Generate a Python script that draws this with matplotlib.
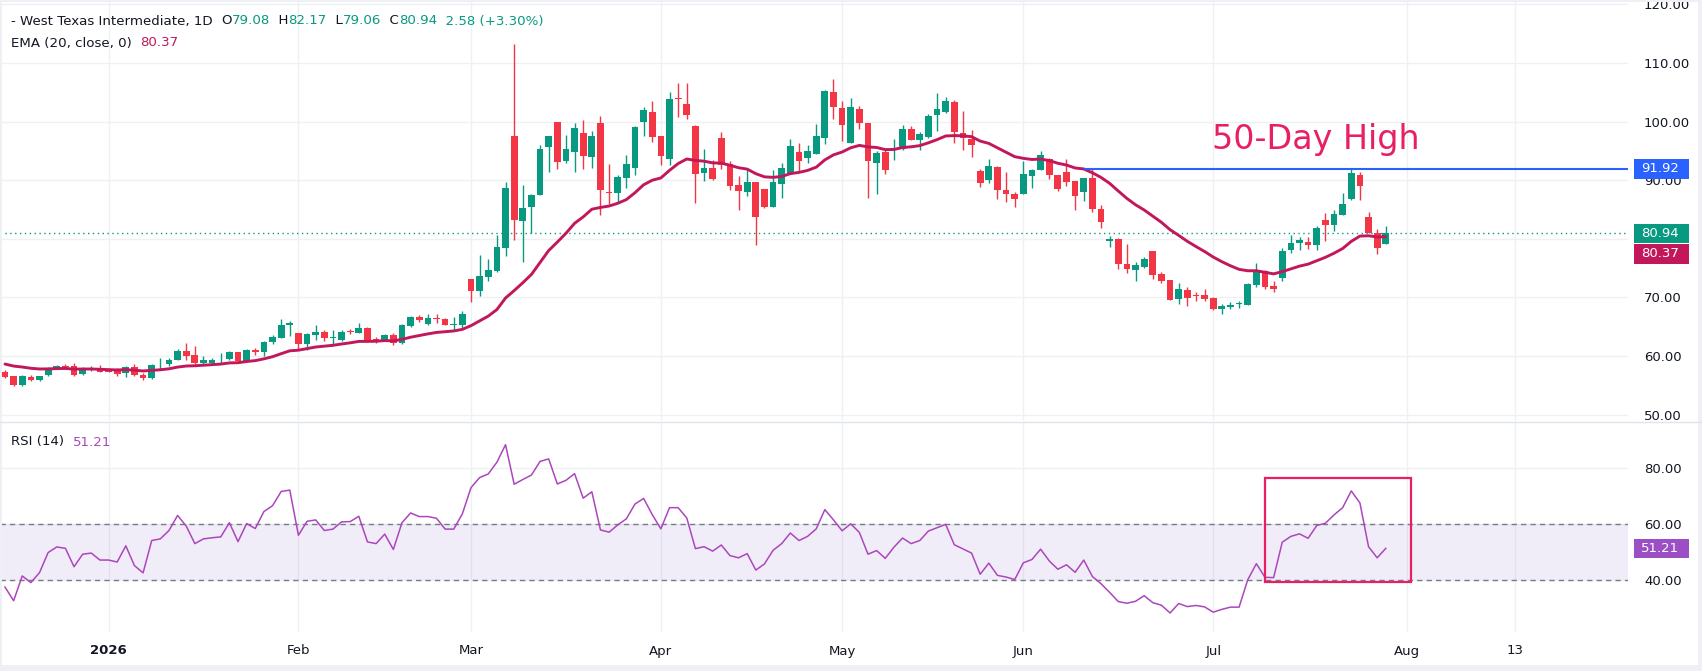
import numpy as np
import matplotlib
matplotlib.use("Agg")
import matplotlib.pyplot as plt
from matplotlib.patches import Rectangle

plt.rcParams['font.family'] = ['DejaVu Sans']

# ---------------- data ----------------
opens = [57.34, 56.55, 55.03, 56.50, 55.88, 56.72, 57.80, 58.31, 58.36, 56.89,
         57.80, 57.91, 57.34, 57.68, 57.06, 58.14, 56.84, 56.21, 58.59, 58.70,
         59.27, 60.90, 60.17, 58.76, 58.76, 59.43, 59.43, 60.73, 59.21, 61.07,
         60.62, 62.32, 63.16, 65.25, 63.95, 61.98, 63.67, 64.18, 63.11, 62.66,
         64.29, 64.01, 64.80, 62.88, 62.77, 63.62, 62.15, 65.20, 66.67, 65.48,
         66.50, 66.27, 65.36, 65.25, 73.13, 71.15, 73.53, 74.55, 78.46, 97.46,
         83.06, 85.44, 87.48, 95.65, 99.85, 93.27, 94.80, 97.98, 93.95, 99.68,
         88.05, 87.82, 90.37, 92.08, 99.90, 101.72, 97.46, 93.61, 103.99, 103.08,
         99.17, 91.23, 92.02, 97.12, 92.70, 89.13, 87.99, 89.64, 88.45, 85.44,
         89.35, 91.23, 94.74, 93.78, 94.46, 97.18, 105.12, 102.27, 96.36, 102.10,
         99.72, 92.95, 94.77, 95.34, 95.34, 98.69, 96.82, 97.33, 101.14, 101.59,
         103.30, 98.01, 96.99, 91.53, 90.06, 92.27, 88.30, 87.73, 87.67, 90.74,
         91.76, 93.58, 90.85, 91.36, 89.83, 88.01, 90.34, 85.11, 79.60, 79.94,
         75.68, 74.72, 75.23, 77.90, 73.98, 72.95, 69.77, 71.25, 70.34, 70.45,
         69.95, 67.95, 68.30, 68.82, 68.76, 72.14, 74.56, 71.92, 73.32, 78.06,
         79.24, 79.52, 78.90, 83.24, 82.28, 84.14, 86.79, 90.96, 83.75, 80.99,
         79.08]
highs = [57.68, 56.67, 56.72, 56.84, 56.67, 58.14, 58.47, 58.70, 58.81, 58.14,
         58.36, 58.47, 57.40, 57.97, 58.36, 58.64, 57.12, 58.59, 59.66, 59.72,
         61.19, 62.26, 61.75, 60.06, 59.60, 60.51, 60.90, 60.73, 61.24, 61.30,
         62.60, 63.56, 66.33, 65.99, 63.95, 63.95, 65.31, 64.41, 64.46, 64.41,
         64.69, 65.65, 64.92, 63.22, 63.79, 63.95, 65.42, 66.84, 66.95, 67.18,
         67.18, 66.50, 66.61, 67.63, 73.13, 77.21, 76.53, 80.62, 89.64, 113.29,
         89.13, 87.59, 95.93, 97.46, 99.85, 97.63, 99.68, 100.19, 98.32, 101.04,
         92.70, 90.83, 94.23, 99.17, 102.46, 103.48, 97.46, 105.12, 106.60, 106.65,
         99.34, 95.25, 93.38, 98.15, 93.21, 90.66, 91.68, 89.64, 88.45, 91.68,
         92.93, 96.95, 96.27, 95.93, 99.51, 105.46, 107.33, 103.47, 103.98, 102.61,
         99.72, 94.94, 95.11, 96.99, 99.38, 99.32, 98.18, 101.36, 104.83, 104.20,
         103.64, 101.76, 98.52, 91.93, 93.58, 92.50, 91.36, 88.01, 93.24, 91.99,
         95.00, 93.75, 90.85, 93.58, 89.89, 90.34, 91.88, 85.74, 80.45, 80.06,
         79.15, 76.02, 76.82, 77.90, 74.32, 72.95, 72.44, 71.70, 70.85, 71.42,
         70.05, 68.81, 69.20, 69.44, 72.42, 75.80, 74.68, 72.87, 78.39, 80.70,
         80.31, 80.31, 82.11, 84.42, 84.93, 87.75, 91.92, 91.35, 84.59, 81.66,
         82.17]
lows = [56.21, 54.97, 54.97, 55.80, 55.71, 56.65, 57.74, 58.02, 56.65, 56.84,
        57.51, 57.20, 57.20, 56.55, 56.38, 56.65, 55.88, 56.10, 57.68, 58.36,
        59.27, 59.27, 58.70, 58.70, 58.47, 58.81, 59.38, 59.15, 59.15, 60.23,
        60.06, 61.98, 63.10, 63.50, 61.19, 60.96, 62.66, 62.54, 62.09, 62.54,
        63.79, 63.95, 62.43, 62.20, 62.49, 61.81, 62.10, 64.92, 65.82, 65.37,
        65.59, 65.25, 64.45, 64.74, 69.27, 70.29, 72.85, 74.38, 77.04, 79.77,
        76.08, 81.02, 87.40, 91.40, 91.91, 92.93, 91.40, 91.91, 92.08, 84.08,
        85.89, 86.12, 88.67, 90.88, 97.52, 96.50, 92.59, 92.59, 100.75, 100.41,
        86.12, 89.86, 90.03, 91.91, 88.33, 84.93, 87.31, 78.97, 85.27, 85.40,
        86.97, 91.11, 91.57, 92.93, 94.40, 96.10, 100.41, 96.70, 96.30, 98.69,
        86.99, 87.61, 91.08, 93.47, 95.23, 96.82, 95.17, 97.27, 98.41, 101.48,
        96.36, 95.17, 93.98, 88.86, 89.55, 86.82, 86.31, 85.45, 87.60, 88.69,
        91.70, 90.23, 88.18, 89.03, 84.94, 86.42, 84.60, 81.88, 78.64, 74.83,
        74.20, 72.84, 75.11, 73.13, 72.50, 69.55, 68.92, 68.52, 69.38, 69.38,
        67.84, 67.22, 68.10, 68.14, 68.70, 71.86, 71.52, 70.96, 72.82, 77.55,
        78.11, 78.23, 78.06, 79.58, 81.27, 84.10, 86.62, 86.68, 81.00, 77.38,
        79.06]
closes = [56.38, 55.03, 56.55, 55.88, 56.67, 57.97, 58.36, 58.14, 56.72, 57.85,
          57.91, 57.23, 57.23, 57.01, 58.19, 56.72, 56.21, 58.47, 58.70, 59.38,
          60.90, 60.06, 58.76, 59.38, 59.38, 59.55, 60.73, 59.21, 61.07, 60.62,
          62.43, 63.33, 65.31, 65.59, 61.98, 63.79, 64.18, 63.00, 63.28, 64.18,
          64.18, 64.80, 62.54, 62.77, 63.67, 62.15, 65.31, 66.67, 66.21, 66.50,
          66.38, 65.37, 65.47, 67.18, 71.15, 73.64, 74.66, 78.58, 88.62, 83.17,
          85.21, 87.42, 95.25, 97.46, 93.10, 95.25, 98.83, 94.12, 97.46, 88.28,
          87.88, 90.49, 92.70, 99.05, 102.06, 97.35, 94.12, 103.93, 103.82, 101.09,
          91.06, 92.02, 90.20, 92.59, 89.01, 88.16, 89.64, 83.74, 85.44, 89.64,
          92.08, 95.76, 93.27, 94.91, 97.46, 105.29, 102.46, 99.43, 102.44, 99.77,
          93.30, 94.60, 91.76, 95.51, 98.69, 96.88, 97.84, 100.91, 102.10, 103.47,
          98.24, 97.22, 96.02, 89.55, 92.50, 88.35, 87.67, 86.82, 91.02, 91.70,
          94.26, 90.91, 88.52, 89.72, 87.33, 90.34, 85.11, 82.90, 79.89, 75.74,
          74.89, 75.51, 76.48, 73.86, 72.84, 69.60, 71.42, 69.94, 70.23, 69.80,
          67.95, 68.55, 68.75, 68.99, 72.31, 74.56, 71.80, 71.46, 78.00, 79.30,
          79.86, 78.90, 81.89, 82.28, 84.20, 85.94, 91.18, 89.04, 81.04, 78.36,
          80.94]
rsi = [37.3, 32.4, 41.3, 38.9, 42.5, 49.7, 51.7, 51.2, 44.6, 49.1,
       49.5, 47.0, 47.0, 46.3, 52.1, 45.0, 42.4, 54.0, 54.6, 57.6,
       63.0, 59.2, 52.9, 54.6, 55.0, 55.3, 60.4, 53.6, 60.1, 58.3,
       64.4, 66.5, 71.6, 72.1, 55.9, 60.9, 61.4, 57.6, 58.1, 60.7,
       60.8, 62.7, 53.5, 52.9, 56.3, 50.8, 60.4, 63.9, 62.6, 62.6,
       62.0, 58.1, 58.1, 63.6, 73.0, 76.6, 77.9, 82.1, 88.4, 74.2,
       75.9, 77.5, 82.4, 83.3, 74.3, 75.6, 78.0, 69.2, 71.5, 57.8,
       57.0, 59.6, 61.8, 67.1, 69.1, 63.3, 58.2, 65.8, 65.8, 62.1,
       51.1, 51.8, 50.2, 52.4, 48.6, 47.8, 49.3, 43.4, 45.6, 50.5,
       52.9, 56.7, 54.0, 55.5, 58.2, 65.1, 61.4, 57.5, 60.0, 56.9,
       49.1, 50.4, 47.6, 51.6, 54.9, 52.9, 54.0, 57.4, 58.6, 59.8,
       52.5, 51.0, 49.5, 41.9, 45.9, 41.5, 40.9, 40.0, 46.0, 47.2,
       50.9, 46.7, 43.7, 45.3, 42.6, 47.0, 41.1, 38.5, 35.4, 32.1,
       31.5, 32.2, 34.2, 31.7, 30.8, 28.0, 31.4, 30.3, 30.7, 30.2,
       28.3, 29.3, 30.1, 30.1, 39.9, 45.7, 40.8, 40.7, 53.4, 55.5,
       56.4, 54.8, 59.4, 60.2, 63.2, 65.8, 71.8, 67.5, 51.8, 47.8,
       51.21]
ema_seed = 58.88          # EMA value just before the first visible bar
ema_last = 80.37
high_50d = 91.92
high_50d_start = 125      # bar where the 50-day-high line starts
tick_index = [12, 34, 54, 76, 97, 118, 140, 162.4, 175]
tick_labels = ['2026', 'Feb', 'Mar', 'Apr', 'May', 'Jun', 'Jul', 'Aug', '13']
price_ticks = [50, 60, 70, 80, 90, 100, 110, 120]
hidden_price_ticks = [80]   # covered by the last-price tag in the reference
rsi_ticks = [40, 60, 80]
rsi_band = (40, 60)
legend_ohlc = dict(O='79.08', H='82.17', L='79.06', C='80.94')
legend_change = '2.58 (+3.30%)'

# ---------------- style ----------------
GREEN = '#089981'
RED = '#F23645'
EMA_C = '#C2185B'
RSI_C = '#AB47BC'
BLUE = '#2962FF'
PINK = '#E91E63'
TXT = '#131722'
GRID = '#EEF0F4'
FS = 9.5
LFS = 9.6

W, H = 1702, 671
fig = plt.figure(figsize=(W / 100, H / 100), dpi=100)
fig.patch.set_facecolor('white')

PX_BAR = 8.63
X0 = 5.0
PLOT_R = 1628
x_left = -X0 / PX_BAR
x_right = (PLOT_R - X0) / PX_BAR

ax = fig.add_axes([0, 1 - 421 / H, PLOT_R / W, 421 / H])
ax2 = fig.add_axes([0, 1 - 632 / H, PLOT_R / W, (632 - 423) / H])

for a in (ax, ax2):
    a.set_facecolor('white')
    for s in a.spines.values():
        s.set_visible(False)
    a.set_xlim(x_left, x_right)
    a.set_xticks(tick_index)
    a.grid(True, color=GRID, lw=1.0, zorder=0)
    a.set_axisbelow(True)
    a.yaxis.tick_right()
    a.tick_params(axis='y', length=0, pad=11.5, labelsize=FS, labelcolor=TXT)

# ---------------- price pane ----------------
ax.set_ylim(48.925, 120.745)
ax.set_yticks(price_ticks)
ax.set_yticklabels(['' if v in hidden_price_ticks else f'{v:.2f}' for v in price_ticks])
ax.tick_params(axis='x', length=0, labelbottom=False)

x = np.arange(len(closes))
o = np.array(opens); c = np.array(closes); h = np.array(highs); l = np.array(lows)
cols = np.where(c >= o, GREEN, RED)
ax.vlines(x, l, h, colors=cols, lw=1.0, zorder=3)
ax.bar(x, np.maximum(np.abs(c - o), 0.14), bottom=np.minimum(o, c), width=0.78,
       color=cols, linewidth=0, zorder=4)

alpha = 2 / 21
ema = []
prev = ema_seed
for cc in closes:
    prev = prev + alpha * (cc - prev)
    ema.append(prev)
ax.plot(x, ema, color=EMA_C, lw=2.1, zorder=5, solid_capstyle='round')

ax.axhline(closes[-1], color=GREEN, lw=1.0, linestyle=(0, (1, 2.5)), zorder=2)
ax.hlines(high_50d, high_50d_start, x_right, color=BLUE, lw=1.5, zorder=6)
ax.text(139.9, 95.27, '50-Day High', color=PINK, fontsize=24, ha='left',
        va='baseline', family='DejaVu Sans', zorder=7)

# ---------------- RSI pane ----------------
ax2.set_ylim(21.18, 96.18)
ax2.set_yticks(rsi_ticks)
ax2.set_yticklabels([f'{v:.2f}' for v in rsi_ticks])
ax2.axhspan(rsi_band[0], rsi_band[1], color=(126 / 255, 87 / 255, 194 / 255, 0.10), lw=0, zorder=1)
for lv in rsi_band:
    ax2.axhline(lv, color='#787B86', lw=1.0, dashes=(3.8, 3.0), zorder=2)
ax2.plot(x, rsi, color=RSI_C, lw=1.1, zorder=4)
ax2.add_patch(Rectangle((146.0, 39.1), 16.9, 37.4, fill=False, ec=PINK, lw=1.6, zorder=5))

ax2.set_xticklabels(tick_labels)
ax2.tick_params(axis='x', length=0, pad=9, labelsize=FS, labelcolor=TXT)
ax2.get_xticklabels()[0].set_fontweight('bold')

for a in (ax, ax2):
    for lab in a.get_yticklabels():
        lab.set_horizontalalignment('left')

# ---------------- right-axis value tags ----------------
fig.canvas.draw()


def tag(axis, value, text, color, dy_px=0.0):
    yd = axis.transData.transform((0, value))[1] + dy_px
    hbox = 19.5
    fig.add_artist(Rectangle((1634 / W, (yd - hbox / 2) / H), 55 / W, hbox / H,
                             transform=fig.transFigure, color=color, lw=0, zorder=10))
    fig.text(1641 / W, yd / H, text, color='white', fontsize=FS, ha='left', va='center',
             zorder=11)


tag(ax, high_50d, f'{high_50d:.2f}', BLUE)
tag(ax, closes[-1], f'{closes[-1]:.2f}', GREEN)
y_close = ax.transData.transform((0, closes[-1]))[1]
y_ema = ax.transData.transform((0, ema_last))[1]
tag(ax, ema_last, f'{ema_last:.2f}', EMA_C, dy_px=(y_close - 20.5) - y_ema)
tag(ax2, rsi[-1], f'{rsi[-1]:.2f}', '#9C4FC4')


# ---------------- legends ----------------
def chain(pieces, x0, y0):
    prev = fig.text(x0 / W, 1 - y0 / H, pieces[0][0], color=pieces[0][1],
                    fontsize=LFS, ha='left', va='center')
    for s, col in pieces[1:]:
        prev = fig.add_artist(plt.Annotation(s, xy=(1, 0), xycoords=prev, color=col,
                                             fontsize=LFS, ha='left', va='bottom'))
        fig.canvas.draw()


chain([('- West Texas Intermediate, 1D  ', TXT), ('O', TXT), (legend_ohlc['O'], GREEN),
       ('  H', TXT), (legend_ohlc['H'], GREEN), ('  L', TXT), (legend_ohlc['L'], GREEN),
       ('  C', TXT), (legend_ohlc['C'], GREEN), ('  ' + legend_change, GREEN)], 11, 21)
chain([('EMA (20, close, 0)  ', TXT), (f'{ema_last:.2f}', EMA_C)], 11, 43)
chain([('RSI (14)  ', TXT), (f'{rsi[-1]:.2f}', RSI_C)], 11, 442)

# ---------------- frame / separators ----------------
fig.add_artist(plt.Line2D([0, 1], [1 - 422 / H] * 2, color='#E0E3EB', lw=1.0,
                          transform=fig.transFigure))
band = '#EEF0F5'
fig.add_artist(Rectangle((0, 0), 1, 6 / H, transform=fig.transFigure, color=band, lw=0))
fig.add_artist(Rectangle((1 - 4 / W, 0), 4 / W, 1, transform=fig.transFigure, color=band, lw=0))
fig.add_artist(Rectangle((0, 1 - 2 / H), 1, 2 / H, transform=fig.transFigure, color=band, lw=0))
fig.add_artist(Rectangle((0, 0), 2 / W, 1, transform=fig.transFigure, color=band, lw=0))

fig.savefig('out.png', dpi=100, facecolor='white')
